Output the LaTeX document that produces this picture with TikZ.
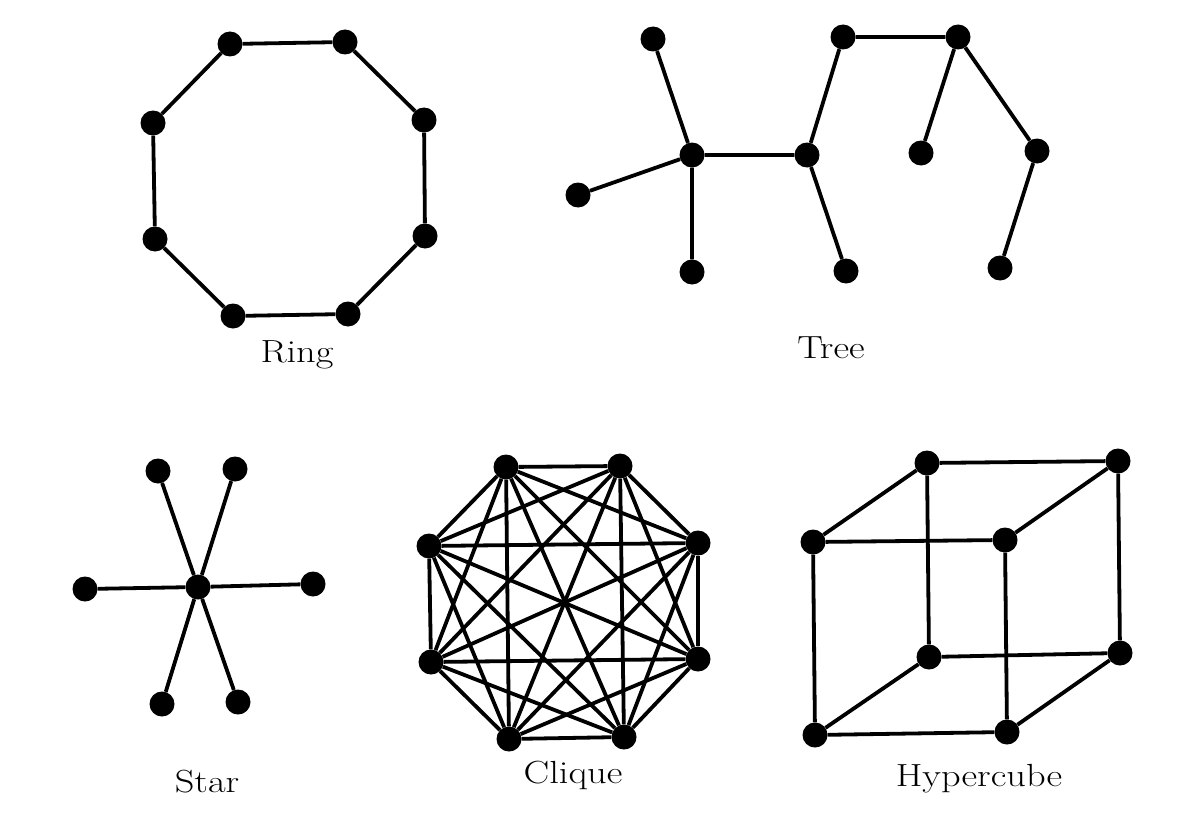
\documentclass[tikz,border=0pt]{standalone}
\usepackage{fontspec}
\newcommand{\wlbl}[1]{\scalebox{1.2}[1]{#1}}
\begin{document}
\begin{tikzpicture}[x=1pt,y=-1pt,
  vtx/.style={circle,fill=black,inner sep=0pt,minimum size=25pt},
  edge/.style={line width=3.8pt},
  lbl/.style={anchor=base,font=\fontsize{32}{38}\selectfont}]
\useasboundingbox (0,0) rectangle (1190,824);
% Ring
\foreach \n/\x/\y in {r1/230/44,r2/345/42,r3/424/120,r4/425/236,r5/348/314,r6/233/316,r7/155/239,r8/153/123}
  \node[vtx] (\n) at (\x,\y) {};
\draw[edge] (r1)--(r2)--(r3)--(r4)--(r5)--(r6)--(r7)--(r8)--(r1);
\node[lbl] (ringlbl) at (297,362) {\wlbl{Ring}};
% Tree
\foreach \n/\x/\y in {t1/653/39,t2/692/155,t3/578/195,t4/692/272,t5/807/155,t6/846/271,t7/843/37,t8/958/37,t9/921/153,t10/1037/151,t11/1000/268}
  \node[vtx] (\n) at (\x,\y) {};
\draw[edge] (t1)--(t2) (t3)--(t2) (t2)--(t4) (t2)--(t5) (t5)--(t6) (t5)--(t7)
  (t7)--(t8) (t8)--(t9) (t8)--(t10) (t10)--(t11);
\node[lbl] (treelbl) at (831,358) {\wlbl{Tree}};
% Star
\foreach \n/\x/\y in {s0/198/587,s1/158/471,s2/235/469,s3/85/589,s4/313/584,s5/162/704,s6/238/702}
  \node[vtx] (\n) at (\x,\y) {};
\foreach \n in {s1,s2,s3,s4,s5,s6} \draw[edge] (s0)--(\n);
\node[lbl] (starlbl) at (207,792) {\wlbl{Star}};
% Clique
\foreach \n/\x/\y in {1/506/467,2/620/466,3/698/543,4/698/659,5/624/737,6/509/739,7/431/662,8/429/546}
  \node[vtx] (c\n) at (\x,\y) {};
\foreach \i in {1,...,7}{
  \pgfmathtruncatemacro{\s}{\i+1}
  \foreach \j in {\s,...,8} \draw[edge] (c\i)--(c\j);
}
\node[lbl] (cliquelbl) at (573,783) {\wlbl{Clique}};
% Hypercube
\foreach \n/\x/\y in {h1/927/463,h2/1118/461,h3/813/542,h4/1005/540,h5/929/657,h6/1120/653,h7/815/735,h8/1007/732}
  \node[vtx] (\n) at (\x,\y) {};
\draw[edge] (h3)--(h4)--(h8)--(h7)--(h3);
\draw[edge] (h1)--(h2)--(h6)--(h5)--(h1);
\draw[edge] (h3)--(h1) (h4)--(h2) (h8)--(h6) (h7)--(h5);
\node[lbl] (hyperlbl) at (979,786) {\wlbl{Hypercube}};
\end{tikzpicture}
\end{document}
